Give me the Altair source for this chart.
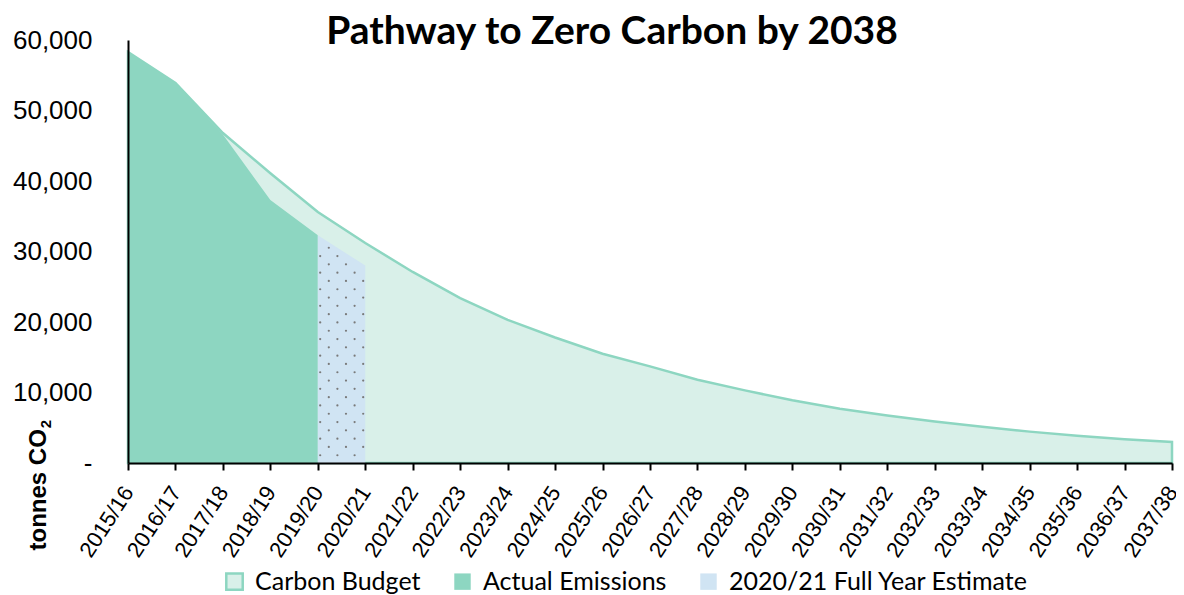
import altair as alt
import pandas as pd
import numpy as np

years = ["2015/16", "2016/17", "2017/18", "2018/19", "2019/20", "2020/21", "2021/22",
         "2022/23", "2023/24", "2024/25", "2025/26", "2026/27", "2027/28", "2028/29",
         "2029/30", "2030/31", "2031/32", "2032/33", "2033/34", "2034/35", "2035/36",
         "2036/37", "2037/38"]
budget = [58300, 53900, 46800, 41100, 35600, 31200, 27100, 23400, 20300, 17800, 15500,
          13700, 11800, 10300, 8900, 7700, 6750, 5900, 5150, 4450, 3880, 3360, 2980]
actual_years = ["2015/16", "2016/17", "2017/18", "2018/19", "2019/20"]
actual = [58300, 53900, 46600, 37300, 32300]
estimate_years = ["2019/20", "2020/21"]
estimate = [32300, 28000]

series = ["Carbon Budget", "Actual Emissions", "2020/21 Full Year Estimate"]
fills = ["#d9f0e9", "#8dd6c1", "#d0e4f3"]
strokes = ["#8dd6c1", "rgba(0,0,0,0)", "rgba(0,0,0,0)"]

W, H = 1044, 423
idx = {y: i for i, y in enumerate(years)}
df_b = pd.DataFrame({"i": [idx[y] for y in years], "value": budget, "series": series[0]})
df_a = pd.DataFrame({"i": [idx[y] for y in actual_years], "value": actual, "series": series[1]})
df_e = pd.DataFrame({"i": [idx[y] for y in estimate_years], "value": estimate, "series": series[2]})

# dotted texture for the estimate area (pattern fill emulation)
ex0, ex1 = idx[estimate_years[0]], idx[estimate_years[1]]
dxu = 17.2 / (W / (len(years) - 1))
dyv = 8.3 / (H / 60000)
dots_x, dots_y = [], []
for r in range(80):
    yv = 1100 + r * dyv
    xv = ex0 + 0.05 + (r % 2) * dxu / 2
    while xv < ex1 - 0.03:
        top = np.interp(xv, [ex0, ex1], estimate)
        if yv < top - 500:
            dots_x.append(xv)
            dots_y.append(yv)
        xv += dxu
df_dots = pd.DataFrame({"i": dots_x, "value": dots_y})

label_expr = "[" + ",".join("'" + y + "'" for y in years) + "][datum.value]"
x_enc = alt.X("i:Q", scale=alt.Scale(domain=[0, len(years) - 1], nice=False, zero=False),
              axis=alt.Axis(title=None, values=list(range(len(years))), labelExpr=label_expr,
                            labelAngle=-57, labelAlign="right", labelBaseline="middle",
                            labelFont="Liberation Sans", labelFontSize=22, labelColor="#000",
                            labelPadding=18, tickSize=7, tickColor="#000", tickWidth=2,
                            domainColor="#000", domainWidth=2, zindex=1, labelOverlap=False,
                            grid=False, labelFlush=False))
y_enc = alt.Y("value:Q", scale=alt.Scale(domain=[0, 60000], nice=False),
              axis=alt.Axis(title="tonnes CO", values=[0, 10000, 20000, 30000, 40000, 50000, 60000],
                            labelExpr="datum.value == 0 ? '-\u00a0\u00a0' : format(datum.value, ',')",
                            labelFont="Liberation Sans", labelFontSize=26, labelColor="#000",
                            labelPadding=36, ticks=False, grid=False,
                            domainColor="#000", domainWidth=2, zindex=1,
                            titleFont="Liberation Sans", titleFontSize=24, titleFontWeight="bold",
                            titleColor="#000", titleAngle=270, titleAlign="left",
                            titleBaseline="middle", titleX=-90, titleY=510))
fill_enc = alt.Fill("series:N", scale=alt.Scale(domain=series, range=fills),
                    legend=alt.Legend(title=None, orient="none", legendX=94, legendY=529,
                                      direction="horizontal", symbolType="square", symbolSize=270,
                                      symbolStrokeWidth=2.5, labelFont="Lato", labelFontSize=25,
                                      labelColor="#000", columnPadding=28, labelOffset=8,
                                      labelLimit=400))
stroke_enc = alt.Stroke("series:N", scale=alt.Scale(domain=series, range=strokes), legend=None)

b = alt.Chart(df_b).mark_area(strokeWidth=2.5, interpolate="linear").encode(
    x=x_enc, y=y_enc, fill=fill_enc, stroke=stroke_enc)
a = alt.Chart(df_a).mark_area(strokeWidth=0, interpolate="linear").encode(
    x=x_enc, y=y_enc, fill=fill_enc, stroke=stroke_enc)
e = alt.Chart(df_e).mark_area(strokeWidth=0, interpolate="linear").encode(
    x=x_enc, y=y_enc, fill=fill_enc, stroke=stroke_enc)
d = alt.Chart(df_dots).mark_circle(size=5, color="#7a7a7a", opacity=1).encode(
    x=alt.X("i:Q"), y=alt.Y("value:Q"))

title_df = pd.DataFrame({"t": ["Pathway to Zero Carbon by 2038"]})
t = alt.Chart(title_df).mark_text(font="Lato", fontSize=39, fontWeight="bold", color="#000",
                                  align="center", baseline="alphabetic").encode(
    text="t:N", x=alt.value(484), y=alt.value(4))
sub_df = pd.DataFrame({"t": ["2"]})
s = alt.Chart(sub_df).mark_text(font="Liberation Sans", fontSize=15, fontWeight="bold", color="#000",
                                align="center", baseline="middle", angle=270).encode(
    text="t:N", x=alt.value(-82), y=alt.value(384))

chart = alt.layer(b, a, e, d, t, s).properties(
    width=W, height=H,
    autosize=alt.AutoSizeParams(type="none"),
    padding={"left": 120, "top": 32, "right": 4, "bottom": 132},
).configure_view(stroke=None).resolve_scale(fill="shared", stroke="shared")

chart.save("out.html", embed_options={"renderer": "svg", "actions": False})
